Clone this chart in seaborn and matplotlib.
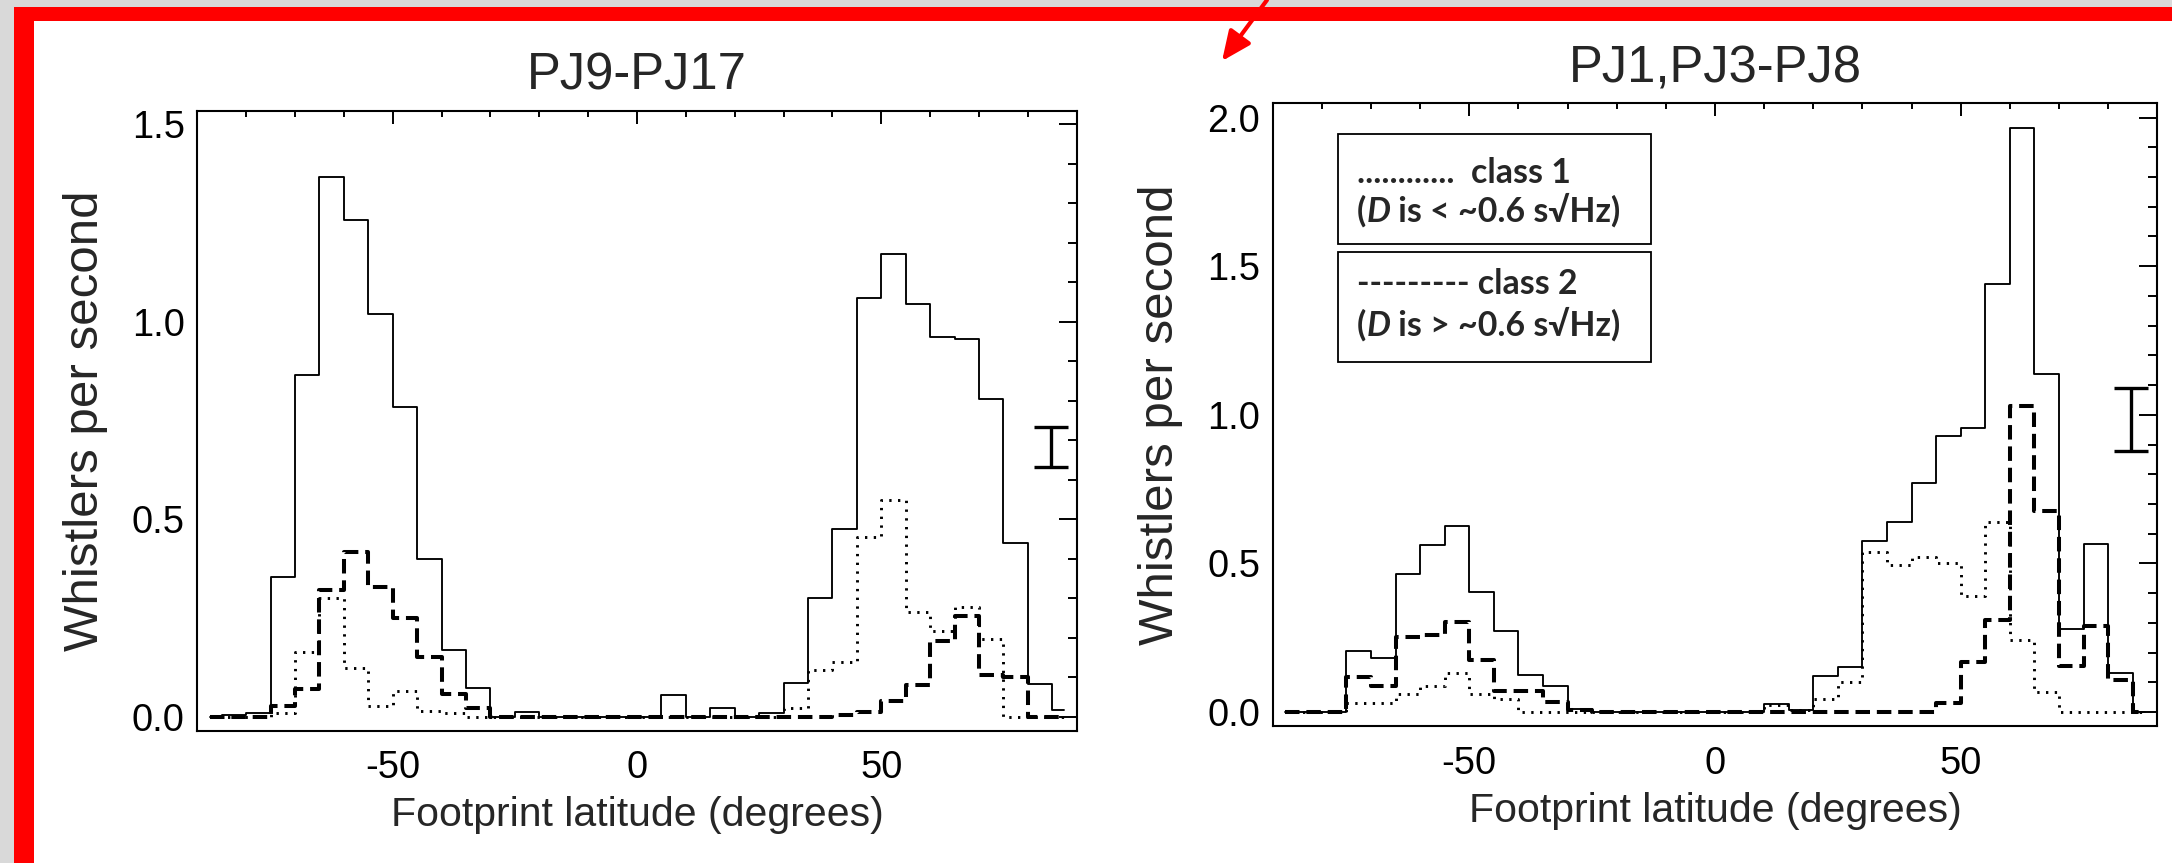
import numpy as np
import pandas as pd
import matplotlib
matplotlib.use("Agg")
import matplotlib.pyplot as plt
import seaborn as sns
from matplotlib.patches import Rectangle, FancyArrowPatch, ArrowStyle
from matplotlib.ticker import FixedLocator, MultipleLocator, FormatStrFormatter, FuncFormatter

# ---------------- data (5-degree bins, values at bin centres) ----------------
lat = [-87.5, -82.5, -77.5, -72.5, -67.5, -62.5, -57.5, -52.5, -47.5, -42.5,
       -37.5, -32.5, -27.5, -22.5, -17.5, -12.5, -7.5, -2.5, 2.5, 7.5,
       12.5, 17.5, 22.5, 27.5, 32.5, 37.5, 42.5, 47.5, 52.5, 57.5,
       62.5, 67.5, 72.5, 77.5, 82.5, 87.5]

# Panel 1: PJ9-PJ17
pj9_total = [0.0, 0.004, 0.01, 0.354, 0.864, 1.366, 1.258, 1.020, 0.785, 0.399,
             0.170, 0.073, 0.0, 0.012, 0.0, 0.0, 0.0, 0.0, 0.0, 0.055,
             0.0, 0.023, 0.0, 0.010, 0.086, 0.302, 0.475, 1.059, 1.171, 1.045,
             0.962, 0.956, 0.804, 0.440, 0.083, 0.018]
pj9_class1 = [0.0, 0.0, 0.0, 0.01, 0.163, 0.302, 0.123, 0.028, 0.065, 0.016,
              0.009, 0.0, 0.0, 0.0, 0.0, 0.0, 0.0, 0.0, 0.0, 0.0,
              0.0, 0.0, 0.0, 0.0, 0.023, 0.118, 0.139, 0.454, 0.549, 0.265,
              0.218, 0.279, 0.197, 0.0, 0.0, 0.0]
pj9_class2 = [0.0, 0.0, 0.0, 0.028, 0.070, 0.320, 0.417, 0.328, 0.251, 0.151,
              0.058, 0.023, 0.0, 0.0, 0.0, 0.0, 0.0, 0.0, 0.0, 0.0,
              0.0, 0.0, 0.0, 0.0, 0.0, 0.0, 0.005, 0.012, 0.041, 0.081,
              0.193, 0.254, 0.107, 0.100, 0.0, 0.0]

# Panel 2: PJ1,PJ3-PJ8
pj1_total = [0.0, 0.0, 0.0, 0.207, 0.183, 0.466, 0.561, 0.625, 0.403, 0.274,
             0.125, 0.086, 0.011, 0.0, 0.0, 0.0, 0.0, 0.0, 0.0, 0.0,
             0.027, 0.008, 0.122, 0.152, 0.575, 0.640, 0.769, 0.929, 0.956, 1.440,
             1.965, 1.136, 0.279, 0.564, 0.130, 0.0]
pj1_class1 = [0.0, 0.0, 0.0, 0.030, 0.030, 0.062, 0.086, 0.133, 0.062, 0.044,
              0.0, 0.0, 0.0, 0.0, 0.0, 0.0, 0.0, 0.0, 0.0, 0.0,
              0.023, 0.008, 0.044, 0.102, 0.539, 0.494, 0.520, 0.502, 0.390, 0.640,
              0.242, 0.066, 0.0, 0.0, 0.0, 0.0]
pj1_class2 = [0.0, 0.0, 0.0, 0.119, 0.086, 0.252, 0.259, 0.302, 0.176, 0.072,
              0.072, 0.034, 0.008, 0.0, 0.0, 0.0, 0.0, 0.0, 0.0, 0.0,
              0.0, 0.0, 0.0, 0.0, 0.0, 0.0, 0.0, 0.029, 0.169, 0.309,
              1.029, 0.677, 0.155, 0.290, 0.108, 0.0]

# representative error bars
err_lat = [84.7, 84.6]
err_lo = [0.633, 0.878]
err_hi = [0.733, 1.089]

titles = ["PJ9-PJ17", "PJ1,PJ3-PJ8"]
xlabel = "Footprint latitude (degrees)"
ylabel = "Whistlers per second"
x_major = [-50, 0, 50]
y_major = [[0.0, 0.5, 1.0, 1.5], [0.0, 0.5, 1.0, 1.5, 2.0]]
y_limits = [(-0.035, 1.534), (-0.048, 2.048)]
legend_lines = [["............  class 1", " is < ~0.6 s\u221aHz)"],
                ["--------- class 2", " is > ~0.6 s\u221aHz)"]]

# ---------------- style ----------------
sns.set_style("white")
plt.rcParams["font.family"] = ["Liberation Sans", "DejaVu Sans"]
plt.rcParams["axes.unicode_minus"] = False

W, H = 2172, 863
fig = plt.figure(figsize=(W / 100, H / 100), dpi=100, facecolor="#d9d9d9")

# slide frame: red border, white page
fig.patches.append(Rectangle((14 / W, 0), 1, 1 - 7 / H, transform=fig.transFigure,
                             facecolor="#ff0000", edgecolor="none", zorder=-20))
fig.patches.append(Rectangle((34 / W, 0), 1, 1 - 21 / H, transform=fig.transFigure,
                             facecolor="white", edgecolor="none", zorder=-19))

ax1 = fig.add_axes([197.3 / W, 1 - 730.7 / H, 879.4 / W, 620.0 / H])
ax2 = fig.add_axes([1272.7 / W, 1 - 726.3 / H, 884.6 / W, 623.0 / H])

panels = [(ax1, pj9_total, pj9_class1, pj9_class2),
          (ax2, pj1_total, pj1_class1, pj1_class2)]

for i, (ax, tot, c1, c2) in enumerate(panels):
    df = pd.DataFrame({"lat": lat, "total": tot, "class1": c1, "class2": c2})
    sns.lineplot(data=df, x="lat", y="total", ax=ax, color="black", lw=1.35,
                 drawstyle="steps-mid", errorbar=None, estimator=None, sort=False)
    sns.lineplot(data=df, x="lat", y="class1", ax=ax, color="black", lw=2.1,
                 drawstyle="steps-mid", errorbar=None, estimator=None, sort=False)
    ax.lines[-1].set_dashes([0.8, 2.2])
    sns.lineplot(data=df, x="lat", y="class2", ax=ax, color="black", lw=2.9,
                 drawstyle="steps-mid", errorbar=None, estimator=None, sort=False)
    ax.lines[-1].set_dashes([3.6, 1.7])

    mid = (err_lo[i] + err_hi[i]) / 2
    half = (err_hi[i] - err_lo[i]) / 2
    ax.errorbar([err_lat[i]], [mid], yerr=[half], fmt="none", ecolor="black",
                elinewidth=2.4, capsize=12.5, capthick=2.4)

    ax.set_xlim(-90, 90)
    ax.set_ylim(*y_limits[i])
    ax.xaxis.set_major_locator(FixedLocator(x_major))
    ax.xaxis.set_minor_locator(MultipleLocator(10))
    ax.yaxis.set_major_locator(FixedLocator(y_major[i]))
    ax.yaxis.set_minor_locator(MultipleLocator(0.1))
    ax.yaxis.set_major_formatter(FormatStrFormatter("%.1f"))
    ax.xaxis.set_major_formatter(FuncFormatter(lambda v, p: "%d" % v))
    ax.tick_params(axis="both", which="both", direction="in", top=True, right=True,
                   width=1.4, labelsize=27.4, colors="black")
    ax.tick_params(axis="x", which="major", length=9, pad=14)
    ax.tick_params(axis="x", which="minor", length=4.5)
    ax.tick_params(axis="y", which="major", length=12.7, pad=9)
    ax.tick_params(axis="y", which="minor", length=6.3)
    for sp in ax.spines.values():
        sp.set_linewidth(1.5)
        sp.set_color("black")
    ax.set_xlabel(xlabel, fontsize=29.5)
    ax.set_ylabel(ylabel, fontsize=35.5)
    ax.xaxis.set_label_coords(0.5, -0.106)
    ax.yaxis.set_label_coords(-0.101, 0.5)
    ax.set_title(titles[i], fontsize=36.5, pad=15)

# legend boxes (figure pixel coordinates)
def fx(px):
    return px / W

def fy(py):
    return 1 - py / H

for (top, bot) in [(134, 244), (252, 362)]:
    fig.patches.append(Rectangle((fx(1338), fy(bot)), (1651 - 1338) / W, (bot - top) / H,
                                 transform=fig.transFigure, facecolor="white",
                                 edgecolor="black", lw=1.3, zorder=5))

leg_font = ["Lato", "DejaVu Sans"]
leg_size = 24.4
baselines = [(183, 222), (294, 336)]
fig.canvas.draw()
renderer = fig.canvas.get_renderer()
for k in range(2):
    fig.text(fx(1357), fy(baselines[k][0]), legend_lines[k][0], family=leg_font,
             weight="bold", fontsize=leg_size, va="baseline", ha="left", zorder=6)
    t1 = fig.text(fx(1357), fy(baselines[k][1]), "(", family=leg_font, weight="bold",
                  fontsize=leg_size, va="baseline", ha="left", zorder=6)
    bb = t1.get_window_extent(renderer)
    t2 = fig.text(bb.x1 / W, fy(baselines[k][1]), "D", family=leg_font, weight="bold",
                  style="italic", fontsize=leg_size, va="baseline", ha="left", zorder=6)
    bb2 = t2.get_window_extent(renderer)
    fig.text(bb2.x1 / W, fy(baselines[k][1]), legend_lines[k][1], family=leg_font,
             weight="bold", fontsize=leg_size, va="baseline", ha="left", zorder=6)

# red annotation arrow at the top
arrow = FancyArrowPatch((fx(1267), fy(0)), (fx(1222), fy(61)), transform=fig.transFigure,
                        arrowstyle=ArrowStyle("-|>", head_length=18, head_width=8),
                        mutation_scale=1, color="#ff0000", lw=3, shrinkA=0, shrinkB=0,
                        zorder=10)
fig.patches.append(arrow)

fig.savefig("out.png", dpi=100, facecolor=fig.get_facecolor())
